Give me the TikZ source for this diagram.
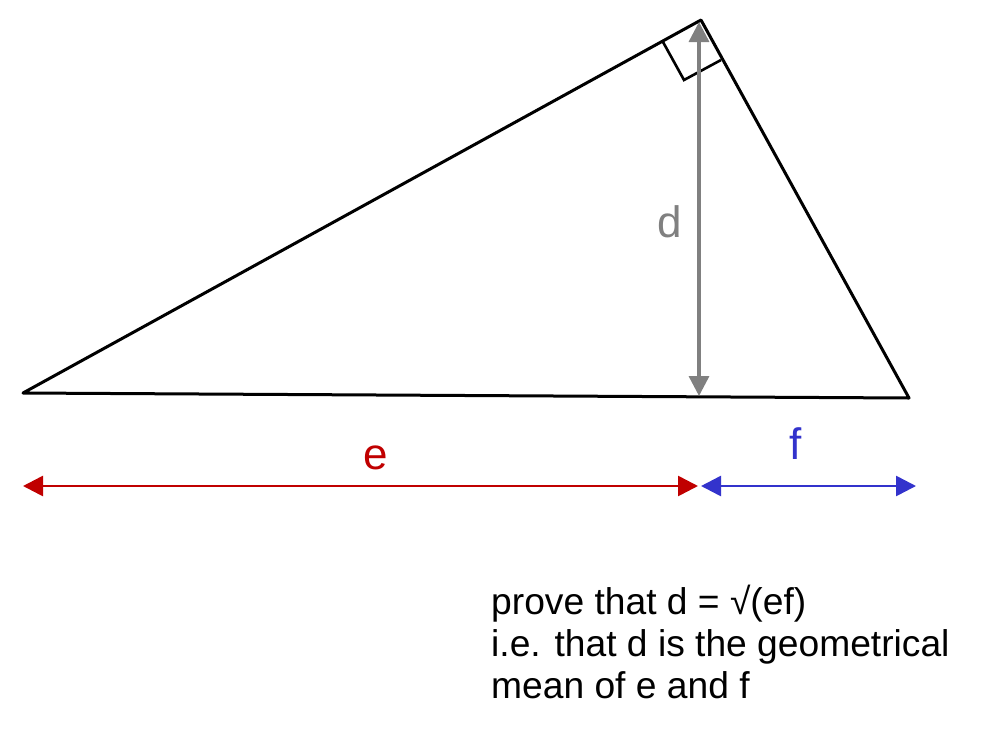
\documentclass[tikz,border=0pt]{standalone}
\usepackage{fontspec}
\setmainfont{Liberation Sans}
\usetikzlibrary{arrows.meta}
\definecolor{ered}{RGB}{192,0,0}
\definecolor{fblue}{RGB}{51,51,204}
\definecolor{dgray}{RGB}{128,128,128}
\tikzset{
  tri/.style={line width=3pt, line join=round},
  dimarrow/.style={line width=2.6pt, {Triangle[length=20pt,width=20pt]}-{Triangle[length=20pt,width=20pt]}},
  lbl/.style={font=\fontsize{44}{44}\selectfont, inner sep=0pt},
  note/.style={font=\fontsize{37.2}{42}\selectfont, align=left, inner sep=0pt, anchor=base west}
}
\begin{document}
\begin{tikzpicture}[x=1pt,y=-1pt]
\useasboundingbox (0,0) rectangle (981,736);
\coordinate (A) at (23,393);
\coordinate (B) at (701,20);
\coordinate (C) at (909,398);
\coordinate (H) at (699,396);
\coordinate (Htop) at (699,22);
\coordinate (R1) at (663,42);
\coordinate (R2) at (684,80);
\coordinate (R3) at (721,60);
\coordinate (EL) at (23,486);
\coordinate (EM) at (698,486);
\coordinate (FM) at (701,486);
\coordinate (FR) at (916,486);
\draw[tri] (A) -- (B) -- (C) -- cycle;
\draw[line width=2.6pt] (R1) -- (R2) -- (R3);
\draw[dimarrow, dgray, line width=3.4pt] (H) -- (Htop);
\draw[dimarrow, ered] (EL) -- (EM);
\draw[dimarrow, fblue] (FM) -- (FR);
\node[lbl, dgray] (d) at (670,222) {d};
\node[lbl, ered] (e) at (376,458) {e};
\node[lbl, fblue] (f) at (796,444) {f};
\node[note] (txt) at (491,698) {prove that d = √(ef)\\i.e. that d is the geometrical\\mean of e and f};
\end{tikzpicture}
\end{document}
